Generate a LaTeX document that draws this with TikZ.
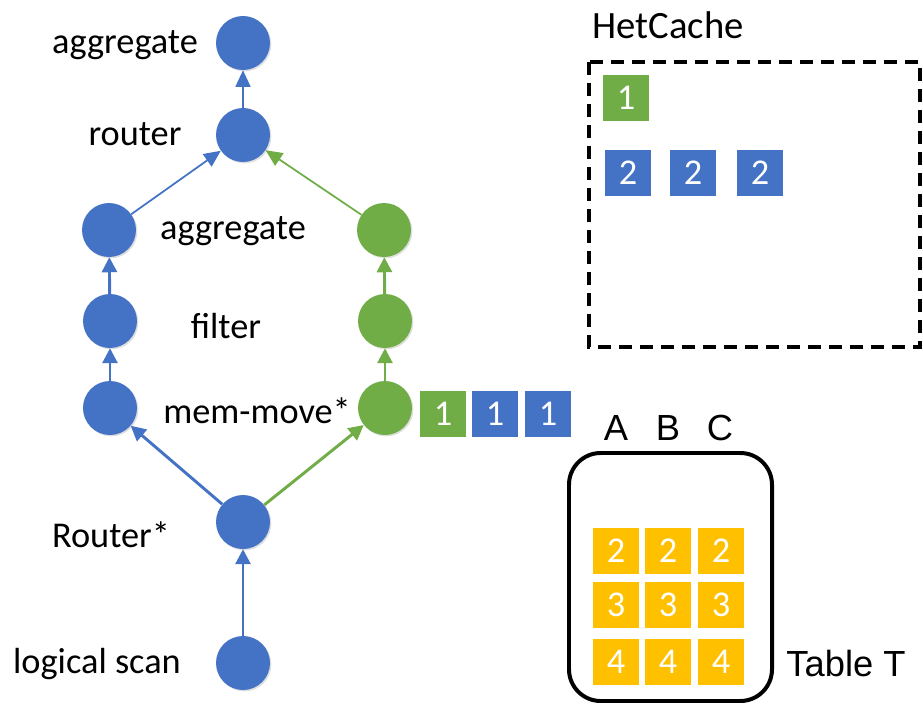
\documentclass[tikz,border=0pt]{standalone}
\usepackage{fontspec}
\setmainfont{Carlito}
\newfontfamily\arialfont{Liberation Sans}
\usetikzlibrary{arrows.meta, shadows}
\definecolor{opblue}{HTML}{4472C4}
\definecolor{opgreen}{HTML}{70AD47}
\definecolor{opyellow}{HTML}{FFC000}

\begin{document}
\begin{tikzpicture}[x=0.03cm, y=-0.03cm,
		op/.style={circle, minimum size=1.62cm, inner sep=0pt, fill=#1,
			drop shadow={opacity=0.25, shadow xshift=1.2pt, shadow yshift=-1.2pt}},
		lbl/.style={font=\fontsize{31}{36}\selectfont},
		blk/.style={minimum size=1.38cm, inner sep=0pt, fill=#1, text=white,
			font=\fontsize{31}{36}\selectfont},
		flow/.style={draw=#1, line width=2.5pt, -{Triangle[length=0.45cm, width=0.45cm]}},
		thinflow/.style={draw=#1, line width=1.5pt, -{Triangle[length=0.5cm, width=0.45cm]}}]
		\useasboundingbox (0,0) rectangle (923,704);
		
		% Operatoren
		\node[op=opblue] (aggTop) at (243,43) {};
		\node[op=opblue] (router) at (243,135) {};
		\node[op=opblue] (aggL) at (109,230) {};
		\node[op=opgreen] (aggR) at (384,230) {};
		\node[op=opblue] (filterL) at (110,321) {};
		\node[op=opgreen] (filterR) at (385,321) {};
		\node[op=opblue] (moveL) at (110,408) {};
		\node[op=opgreen] (moveR) at (385,408) {};
		\node[op=opblue] (routerS) at (243,522) {};
		\node[op=opblue] (scan) at (243,663) {};
		
		% Beschriftungen
		\node[lbl] (tAggTop) at (125,45) {aggregate};
		\node[lbl] (tRouter) at (135,134) {router};
		\node[lbl] (tAgg) at (233,231) {aggregate};
		\node[lbl] (tFilter) at (226,326) {filter};
		\node[lbl] (tMove) at (257,411) {mem-move*};
		\node[lbl] (tRouterS) at (111,535) {Router*};
		\node[lbl] (tScan) at (97,664) {logical scan};
		
		% Pfeile
		\draw[thinflow=opblue] (router) -- (aggTop);
		\draw[thinflow=opblue] (aggL) -- (router);
		\draw[thinflow=opgreen] (aggR) -- (router);
		\draw[flow=opblue] (filterL) -- (aggL);
		\draw[flow=opgreen] (filterR) -- (aggR);
		\draw[flow=opblue] (moveL) -- (filterL);
		\draw[flow=opgreen] (moveR) -- (filterR);
		\draw[flow=opblue] (routerS) -- (moveL);
		\draw[flow=opgreen] (routerS) -- (moveR);
		\draw[flow=opblue] (scan) -- (routerS);
		
		% Bloecke nach mem-move
		\node[blk=opgreen] (m1) at (443,414) {1};
		\node[blk=opblue] (m2) at (495,414) {1};
		\node[blk=opblue] (m3) at (548,414) {1};
		
		% HetCache
		\node[font=\fontsize{33}{38}\selectfont] (tCache) at (668,25) {HetCache};
		\draw[line width=3pt, dash pattern=on 0.38cm off 0.25cm] (589,62) rectangle (920,347);
		\node[blk=opgreen] (c1) at (626,98) {1};
		\node[blk=opblue] (c2) at (628,173) {2};
		\node[blk=opblue] (c3) at (693,173) {2};
		\node[blk=opblue] (c4) at (760,173) {2};
		
		% Tabelle T
		\draw[line width=3.4pt, rounded corners=0.95cm] (569,453) rectangle (772,701);
		\foreach \n/\x in {A/616,B/668,C/720}
			\node[font=\arialfont\fontsize{31}{36}\selectfont] (col\n) at (\x,428) {\n};
		\foreach \r/\y in {2/551,3/605,4/662}
			\foreach \x in {616,668,721}
				\node[blk=opyellow] (t\r\x) at (\x,\y) {\r};
		\node[font=\arialfont\fontsize{31}{36}\selectfont] (tTable) at (846,664) {Table T};
	\end{tikzpicture}
\end{document}
